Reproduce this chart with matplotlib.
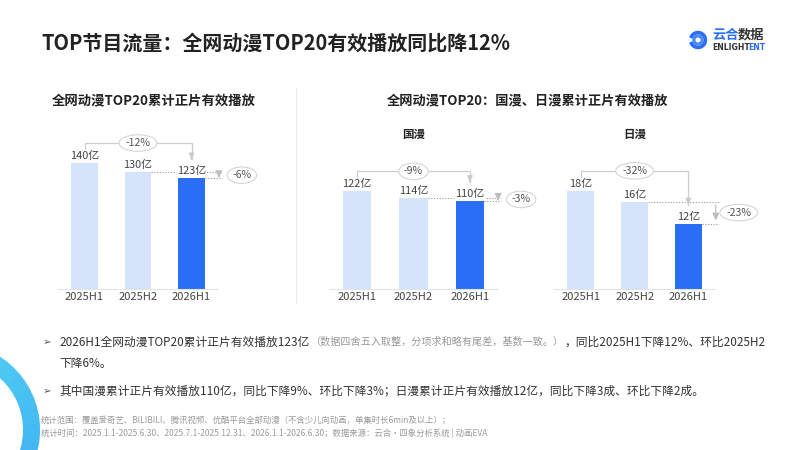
import numpy as np
import matplotlib
matplotlib.use('Agg')
from matplotlib import pyplot as plt
import matplotlib.patches as mpatches

plt.rcParams['font.family'] = ['Noto Sans CJK SC', 'DejaVu Sans']

# data
CATEGORIES = ['2025H1', '2025H2', '2026H1']
TOTAL_PLAYS = [140, 130, 123]
CN_PLAYS = [122, 114, 110]
JP_PLAYS = [18, 16, 12]
TOTAL_CHANGE = ['-12%', '-6%']
CN_CHANGE = ['-9%', '-3%']
JP_CHANGE = ['-32%', '-23%']

TITLE = 'TOP节目流量：全网动漫TOP20有效播放同比降12%'
SUB_LEFT = '全网动漫TOP20累计正片有效播放'
SUB_RIGHT = '全网动漫TOP20：国漫、日漫累计正片有效播放'

W, H = 800, 450
LIGHT = '#D5E3FB'
DARK = '#2A6EF6'
GRAY_LINE = '#CFCFCF'
TXT = '#333333'

fig = plt.figure(figsize=(W / 100, H / 100), dpi=100)
fig.patch.set_facecolor('white')

# overlay axes in pixel coords (y down)
ov = fig.add_axes([0, 0, 1, 1], zorder=5)
ov.set_xlim(0, W)
ov.set_ylim(H, 0)
ov.axis('off')
ov.patch.set_alpha(0)


def px(ax, x, y):
    dx, dy = ax.transData.transform((x, y))
    return dx, H - dy


def bar_chart(left, width, ymax, vals):
    base = 289
    height = 150
    ax = fig.add_axes([left / W, (H - base) / H, width / W, height / H])
    colors = [LIGHT, LIGHT, DARK]
    ax.bar(range(len(vals)), vals, width=0.5, color=colors, zorder=2)
    ax.set_xlim(-0.5, 2.5)
    ax.set_ylim(0, ymax)
    for s in ['top', 'right', 'left']:
        ax.spines[s].set_visible(False)
    ax.spines['bottom'].set_color('#E3E3E3')
    ax.set_yticks([])
    ax.set_xticks(range(len(vals)))
    ax.set_xticklabels(CATEGORIES, fontsize=8, color='#444444')
    ax.tick_params(axis='x', length=0, pad=2)
    ax.patch.set_alpha(0)
    return ax


def pill(x, y, s):
    ov.text(x, y, s, ha='center', va='center', fontsize=7.6, color='#555555', zorder=6,
            bbox=dict(boxstyle='ellipse,pad=0.08', fc='white', ec='#D5D5D5', lw=0.8))


def annotate(ax, vals, changes):
    tops = [px(ax, i, v) for i, v in enumerate(vals)]
    for i, (x, y) in enumerate(tops):
        ov.text(x, y - 7, '%d亿' % vals[i], ha='center', va='center', fontsize=7.9,
                color='#444444', zorder=6,
                bbox=dict(boxstyle='square,pad=0.05', fc='white', ec='none'))
    # year-on-year bracket
    x0, y0 = tops[0]
    x2, y2 = tops[2]
    by = y0 - 20
    ov.plot([x0, x0, x2, x2], [y0 - 13, by, by, y2 - 19], color=GRAY_LINE, lw=0.9, zorder=3)
    ov.annotate('', xy=(x2, y2 - 16), xytext=(x2, y2 - 22),
                arrowprops=dict(arrowstyle='-|>,head_width=0.15,head_length=0.35',
                                color='#C8C8C8', lw=0.9), zorder=3)
    pill((x0 + x2) / 2, by, changes[0])
    # half-on-half
    r1 = px(ax, 1.25, vals[1])
    r2 = px(ax, 2.25, vals[2])
    xe = r2[0] + 17
    ov.plot([r1[0], xe], [r1[1], r1[1]], color='#9A9A9A', lw=0.8, ls=(0, (1, 1.5)), zorder=2)
    ov.plot([r2[0], xe], [r2[1], r2[1]], color='#9A9A9A', lw=0.8, ls=(0, (1, 1.5)), zorder=2)
    xa = xe - 3
    ov.annotate('', xy=(xa, r2[1] - 0.5), xytext=(xa, r1[1] + 0.5),
                arrowprops=dict(arrowstyle='-|>,head_width=0.2,head_length=0.4',
                                color='#BDBDBD', lw=0.9), zorder=3)
    pill(xe + 20, (r1[1] + r2[1]) / 2, changes[1])


ax1 = bar_chart(57.75, 160.5, 166.7, TOTAL_PLAYS)
ax2 = bar_chart(328.75, 169.5, 187.5, CN_PLAYS)
ax3 = bar_chart(554, 161.25, 27.5, JP_PLAYS)
annotate(ax1, TOTAL_PLAYS, TOTAL_CHANGE)
annotate(ax2, CN_PLAYS, CN_CHANGE)
annotate(ax3, JP_PLAYS, JP_CHANGE)

# titles
ov.text(41, 43, TITLE, ha='left', va='center', fontsize=14.4, fontweight='bold', color='#222222')
ov.text(52, 100, SUB_LEFT, ha='left', va='center', fontsize=9.6, fontweight='bold', color='#222222')
ov.text(387, 100, SUB_RIGHT, ha='left', va='center', fontsize=9.5, fontweight='bold', color='#222222')
ov.text(px(ax2, 1, 0)[0], 134, '国漫', ha='center', va='center', fontsize=8.3, fontweight='bold', color='#222222')
ov.text(px(ax3, 1, 0)[0], 134, '日漫', ha='center', va='center', fontsize=8.3, fontweight='bold', color='#222222')

# divider
ov.plot([296, 296], [88, 303], color='#EBEBEB', lw=0.8)

# logo
ov.add_patch(mpatches.Wedge((698, 40), 8.5, 200, 520, width=2.2, color='#2A6EF6'))
ov.add_patch(mpatches.Wedge((698, 40), 5.0, 0, 360, width=1.8, color='#4A8BF8'))
ov.text(712, 35, '云合', ha='left', va='center', fontsize=9.5, fontweight='bold', color='#2A6EF6')
ov.text(738, 35, '数据', ha='left', va='center', fontsize=9.5, fontweight='bold', color='#333333')
ov.text(712, 47.5, 'ENLIGHT', ha='left', va='center', fontsize=5.6, fontweight='bold', color='#333333',
        family='DejaVu Sans')
ov.text(748.5, 47.5, 'ENT', ha='left', va='center', fontsize=5.6, fontweight='bold', color='#2A6EF6',
        family='DejaVu Sans')

# decorative ring bottom-left
n_seg = 30
angles = np.linspace(-80, 100, n_seg + 1)
c_top = np.array([0x52, 0xD3, 0xF2]) / 255
c_bot = np.array([0x3C, 0xA6, 0xF2]) / 255
for i in range(n_seg):
    t = i / (n_seg - 1)
    col = c_bot * (1 - t) + c_top * t
    ov.add_patch(mpatches.Wedge((-47, 430), 87, -angles[i + 1] - 0.5, -angles[i] + 0.5, width=17,
                                color=col, lw=0, zorder=0))

# bullets
fs = 8.45
ov.text(43, 342, '➢', ha='left', va='center', fontsize=7.5, color='#555555', family=['DejaVu Sans'])
ov.text(43, 391, '➢', ha='left', va='center', fontsize=7.5, color='#555555', family=['DejaVu Sans'])

t1 = ov.text(59, 342, '2026H1全网动漫TOP20累计正片有效播放123亿', ha='left', va='center',
             fontsize=fs, color=TXT)
fig.canvas.draw()
r = fig.canvas.get_renderer()
bb = t1.get_window_extent(r)
t2 = ov.text(bb.x1 + 2, 342, '（数据四舍五入取整，分项求和略有尾差，基数一致。）', ha='left', va='center',
             fontsize=7.3, color='#999999')
bb2 = t2.get_window_extent(r)
ov.text(bb2.x1, 342, '，同比2025H1下降12%、环比2025H2', ha='left', va='center', fontsize=fs, color=TXT)
ov.text(59, 364, '下降6%。', ha='left', va='center', fontsize=fs, color=TXT)
ov.text(59, 391, '其中国漫累计正片有效播放110亿，同比下降9%、环比下降3%；日漫累计正片有效播放12亿，同比下降3成、环比下降2成。',
        ha='left', va='center', fontsize=fs, color=TXT)

# footnotes
ov.text(41, 420, '统计范围：覆盖爱奇艺、BILIBILI、腾讯视频、优酷平台全部动漫（不含少儿向动画，单集时长6min及以上）；',
        ha='left', va='center', fontsize=6.05, color='#9A9A9A')
ov.text(41, 433, '统计时间：2025.1.1-2025.6.30、2025.7.1-2025.12.31、2026.1.1-2026.6.30；数据来源：云合·四象分析系统 | 动画EVA',
        ha='left', va='center', fontsize=6.05, color='#9A9A9A')

fig.savefig('out.png', dpi=100, facecolor='white')
